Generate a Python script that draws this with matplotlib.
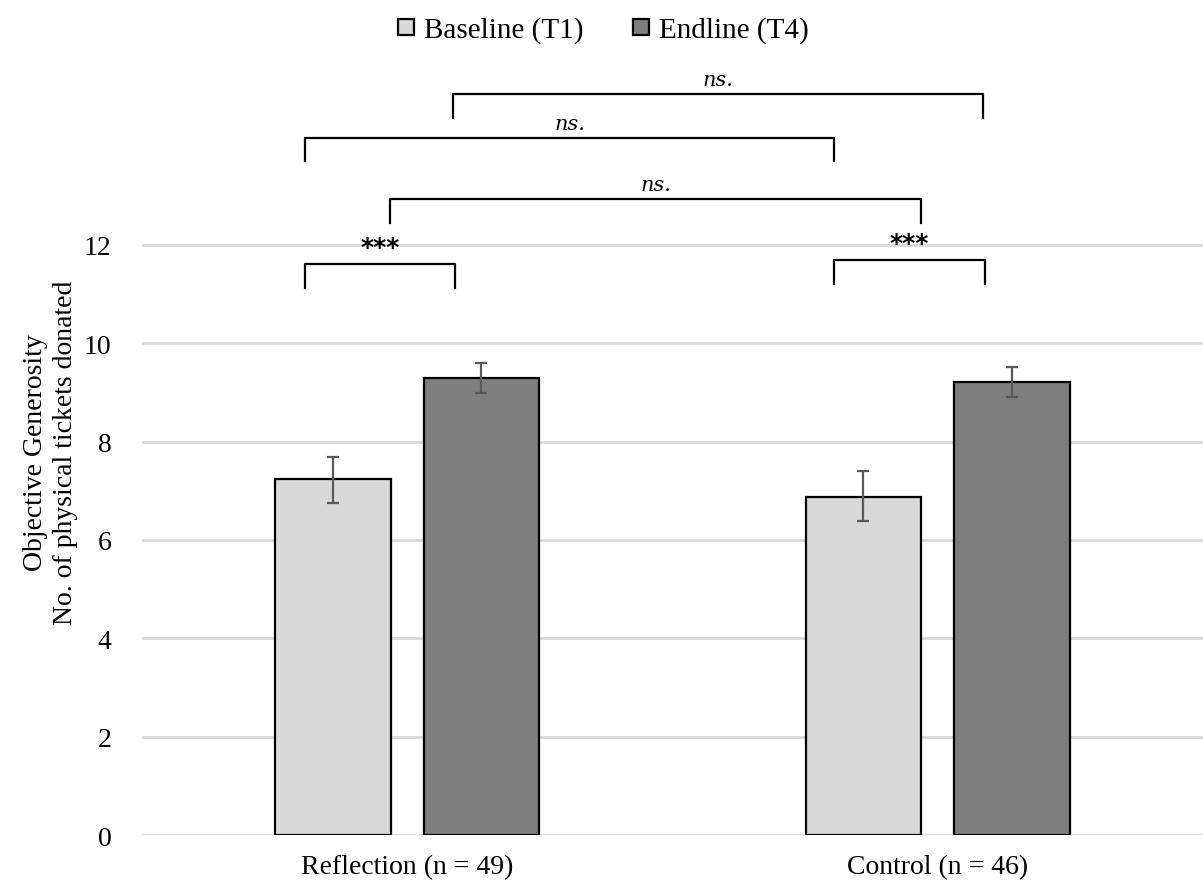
import numpy as np
from matplotlib import pyplot as plt
from matplotlib.lines import Line2D

plt.rcParams['font.family'] = ['Liberation Serif', 'DejaVu Serif']

gruppen = ['Reflection (n = 49)', 'Control (n = 46)']
serie = ['Baseline (T1)', 'Endline (T4)']
baseline = [7.23, 6.87]
endline = [9.29, 9.21]
baseline_err_lo = [0.47, 0.49]
baseline_err_hi = [0.45, 0.54]
endline_err_lo = [0.30, 0.30]
endline_err_hi = [0.31, 0.31]
kolory = ['#d9d9d9', '#7f7f7f']

# brackets: (x left, x right, y top, label)
klamry = [
    (-0.192, 0.090, 11.61, '***'),
    (0.804, 1.089, 11.69, '***'),
    (-0.032, 0.968, 12.93, 'ns.'),
    (-0.192, 0.804, 14.18, 'ns.'),
    (0.087, 1.085, 15.07, 'ns.'),
]

fig = plt.figure(figsize=(12.03, 8.95), dpi=100)
ax = fig.add_axes([0.118, 0.0659, 0.882, 0.856])

x = np.arange(len(gruppen))
szer = 0.218
off = 0.14

ax.bar(x - off, baseline, szer, color=kolory[0], edgecolor='black', linewidth=1.6, zorder=3)
ax.bar(x + off, endline, szer, color=kolory[1], edgecolor='black', linewidth=1.6, zorder=3)
ax.errorbar(x - off, baseline, yerr=[baseline_err_lo, baseline_err_hi], fmt='none',
            ecolor='#595959', elinewidth=1.6, capsize=4.5, capthick=1.6, zorder=4)
ax.errorbar(x + off, endline, yerr=[endline_err_lo, endline_err_hi], fmt='none',
            ecolor='#595959', elinewidth=1.6, capsize=4.5, capthick=1.6, zorder=4)

for xl, xr, yt, lab in klamry:
    ax.plot([xl, xl, xr, xr], [yt - 0.48, yt, yt, yt - 0.48], color='black', lw=1.6,
            clip_on=False, zorder=5)
    if lab == 'ns.':
        ax.text((xl + xr) / 2, yt + 0.1, lab, ha='center', va='bottom', fontsize=15,
                style='italic', family='DejaVu Serif')
    else:
        ax.text((xl + xr) / 2, yt + 0.1, lab, ha='center', va='bottom', fontsize=18,
                family='DejaVu Sans', fontweight='bold')

ax.set_xlim(-0.5, 1.5)
ax.set_ylim(0, 15.58)
ax.set_yticks(range(0, 13, 2))
ax.set_xticks(x)
ax.set_xticklabels(gruppen)
ax.tick_params(axis='both', length=0, labelsize=20)
ax.tick_params(axis='x', pad=14)
ax.tick_params(axis='y', pad=22)
for v in range(0, 13, 2):
    ax.axhline(v, color='#d9d9d9', lw=2, zorder=1)
for s in ax.spines.values():
    s.set_visible(False)
ax.set_ylabel('Objective Generosity\nNo. of physical tickets donated', fontsize=20,
              labelpad=4, linespacing=1.25)

uchwyty = [Line2D([], [], marker='s', ls='none', markersize=12, markerfacecolor=c,
                  markeredgecolor='black', markeredgewidth=1.6) for c in kolory]
fig.legend(uchwyty, serie, loc='upper center', bbox_to_anchor=(0.5, 1.01), ncol=2,
           frameon=False, fontsize=21, handlelength=0.8, handletextpad=0.2,
           columnspacing=1.6)

plt.savefig('out.png', dpi=100)
